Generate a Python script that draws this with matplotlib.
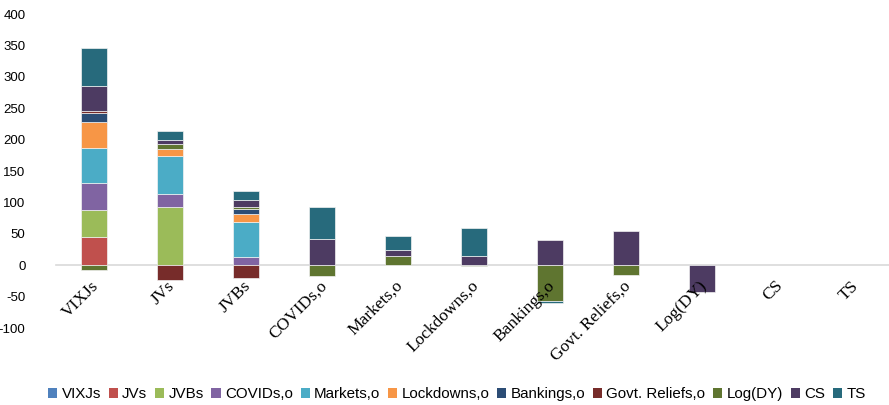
import numpy as np
import matplotlib
matplotlib.use('Agg')
import matplotlib.pyplot as plt
from matplotlib.patches import Patch
from matplotlib.transforms import ScaledTranslation

plt.rcParams['axes.unicode_minus'] = False

categories = ['VIXJs', 'JVs', 'JVBs', 'COVIDs,o', 'Markets,o', 'Lockdowns,o',
              'Bankings,o', 'Govt. Reliefs,o', 'Log(DY)', 'CS', 'TS']

# one list per series, one value per category
vixjs     = [0, 0, 0, 0, 0, 0, 0, 0, 0, 0, 0]
jvs       = [45.6, 0, 0, 0, 0, 0, 0, 0, 0, 0, 0]
jvbs      = [43.0, 92.4, 0, 0, 0, 0, 0, 0, 0, 0, 0]
covids    = [42.5, 20.6, 13.0, 0, 0, 0, 0, 0, 0, 0, 0]
markets   = [55.0, 61.6, 56.0, 0, 0, 0, 0, 0, 0, 0, 0]
lockdowns = [42.0, 11.0, 12.0, 0, 0, 0, 0, 0, 0, 0, 0]
bankings  = [14.0, 0, 8.5, 0, 0, 0, 0, 0, 0, 0, 0]
govt      = [3.0, -23.0, -21.0, 0, 0, 0, 0, 0, 0, 0, 0]
logdy     = [-7.0, 7.4, 3.2, -16.5, 15.0, -2.0, -57.3, -15.0, 0, 0, 0]
cs        = [40.5, 5.8, 10.6, 41.4, 9.5, 15.4, 39.8, 55.0, -42.5, 0, 0]
ts        = [60.0, 14.5, 14.4, 51.6, 21.6, 44.6, -3.0, 0, 0, 0, 0]

series = [('VIXJs', vixjs, '#4F81BD'),
          ('JVs', jvs, '#C0504D'),
          ('JVBs', jvbs, '#9BBB59'),
          ('COVIDs,o', covids, '#8064A2'),
          ('Markets,o', markets, '#4BACC6'),
          ('Lockdowns,o', lockdowns, '#F79646'),
          ('Bankings,o', bankings, '#2C4D75'),
          ('Govt. Reliefs,o', govt, '#772C2A'),
          ('Log(DY)', logdy, '#5F7530'),
          ('CS', cs, '#4D3B62'),
          ('TS', ts, '#276A7C')]

fig = plt.figure(figsize=(8.89, 4.05), dpi=100)
ax = fig.add_axes([56/889, 0.1901, 836/889, 0.7753])

x = np.arange(len(categories))
pos_base = np.zeros(len(categories))
neg_base = np.zeros(len(categories))
for name, vals, col in series:
    v = np.array(vals, dtype=float)
    bottom = np.where(v >= 0, pos_base, neg_base)
    nz = v != 0  # skip empty segments, otherwise their edges show on the axis
    if nz.any():
        ax.bar(x[nz], v[nz], 0.355, bottom=bottom[nz], color=col,
               edgecolor='#f2f2f2', linewidth=0.5, zorder=3)
    pos_base += np.clip(v, 0, None)
    neg_base += np.clip(v, None, 0)

ax.set_xlim(-0.5, 10.5)
ax.set_ylim(-100, 400)
ax.set_yticks(np.arange(-100, 401, 50))
for s in ['top', 'right', 'left']:
    ax.spines[s].set_visible(False)
ax.spines['bottom'].set_position(('data', 0))
ax.spines['bottom'].set_color('#d9d9d9')
ax.spines['bottom'].set_linewidth(1.2)
ax.spines['bottom'].set_zorder(2)

ax.tick_params(axis='y', length=0, pad=22, labelsize=9.5)
for t in ax.get_yticklabels():
    t.set_fontfamily('Liberation Sans')

ax.set_xticks(x)
ax.set_xticklabels(categories, rotation=45, ha='right', rotation_mode='anchor',
                   fontfamily='Liberation Serif', fontsize=12.5)
ax.tick_params(axis='x', length=0, pad=9)
ax.xaxis.set_zorder(5)  # labels sit on top of the bars, like the original
off = ScaledTranslation(-3/100, 0, fig.dpi_scale_trans)
for t in ax.get_xticklabels():
    t.set_transform(t.get_transform() + off)

handles = [Patch(facecolor=c, label=n) for n, _, c in series]
fig.legend(handles=handles, loc='center', bbox_to_anchor=(0.514, 0.027),
           ncol=11, frameon=False, handlelength=0.6, handleheight=0.6,
           handletextpad=0.3, columnspacing=0.5,
           prop={'family': 'Liberation Sans', 'size': 10.9})

fig.savefig('out.png', dpi=100)
